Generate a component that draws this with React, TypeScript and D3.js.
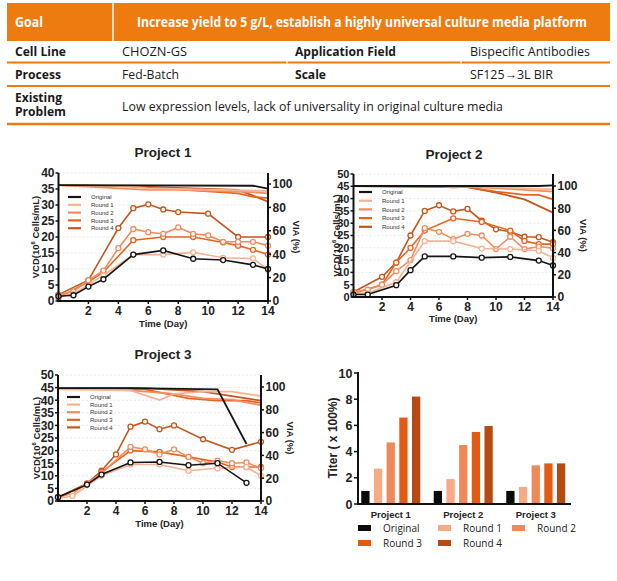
import React from 'react';
import * as d3 from 'd3';

const n = null;
type V = (number | null)[];

const SERIES = ['Original', 'Round 1', 'Round 2', 'Round 3', 'Round 4'];
const LINE_COLORS = ['#151515', '#F7B291', '#F28C5E', '#E8641E', '#C4561E'];
const BAR_COLORS = ['#0b0b0b', '#F5AA88', '#EF8A58', '#E35B12', '#B64A12'];
const DAYS = [0, 1, 2, 3, 4, 5, 6, 7, 8, 9, 10, 11, 12, 13, 14];
const X_TICKS = [2, 4, 6, 8, 10, 12, 14];
const VIA_TICKS = [0, 20, 40, 60, 80, 100];
const VCD_TICKS_40 = [0, 5, 10, 15, 20, 25, 30, 35, 40];
const VCD_TICKS_50 = [0, 5, 10, 15, 20, 25, 30, 35, 40, 45, 50];

const P1_VCD: V[] = [
  [1.5, 1.8, 4.5, 6.8, n, 14.5, n, 15.8, n, 13.2, n, 12.8, n, 11.3, 10],
  [1.5, 2.2, n, 8, n, 14.5, n, 14.5, n, 15.2, n, 13.5, n, 13.3, 9.8],
  [2, 3, 6.5, 9.5, 16.5, 22.5, 21.5, 21, 23, 21, 20.5, 18.5, 18.5, 18.5, 17.3],
  [1, n, 6, 9, n, 19, n, 20, n, 20, n, 18.3, 17.3, 16, 14.5],
  [2, n, 6.5, n, 22.8, 29, 30.2, 28.6, 27.8, n, 27.3, n, 20, n, 20],
];
const P1_VIA: V[] = [
  [99, n, n, n, n, n, n, n, n, n, n, n, n, 98.5, 96],
  [99, n, n, n, n, 98, 96, 96, n, n, n, n, n, n, 94],
  [99, n, n, n, n, n, 95, n, 95, n, n, n, n, 93, 92],
  [99, n, n, n, n, 98, n, n, n, n, n, n, 92, 89, 88],
  [99, n, n, n, n, 98, n, n, n, n, n, n, 95, 90, 85],
];

const P2_VCD: V[] = [
  [1, 1, n, 4.8, 10.9, 16.5, n, 16.5, n, 16, n, 16.3, n, 14.8, 12.8],
  [1.5, 1.5, n, 6, n, 22.7, n, 22.7, n, 19.7, n, 19.5, n, 18.8, 15.9],
  [2, 3, 5, 10.5, 15, 28, 26.5, 23.5, 25.7, 25, 19.5, 24.5, 19.5, 20.5, 19.8],
  [1.5, n, 5, 14, 20, 27, n, 32, n, 30.5, n, 27, 22.8, 21.5, 21.5],
  [2, n, 8.2, 14, 25, 35, 37.3, 34.8, 35.8, 31, 27.5, 26.5, 24.5, 24.3, 22.3],
];
const P2_VIA: V[] = [
  [100, n, n, n, n, n, n, n, n, n, n, n, n, 100, 100.5],
  [100, n, n, n, n, n, n, n, 100, n, n, n, n, n, 97],
  [100, n, n, n, n, n, 100, 98.5, 99.5, n, n, n, n, n, 95],
  [100, n, n, n, n, n, n, n, 99, n, 95, n, 92, 92, 88],
  [100, n, n, n, n, n, n, n, 99, n, 94, n, 88, n, 76],
];

const P3_VCD: V[] = [
  [1.5, n, 6.5, 10.5, n, 15.3, n, 15.5, n, 14.2, n, 15, n, 7.2, n],
  [1, 2, n, 10, n, 14.5, n, 14.5, n, 12, n, 13, n, 13.5, 10],
  [1.5, 3, n, 11, n, 21.5, 20.5, 18.5, 20.5, 17.5, 15, 16, 15, 15.3, 13],
  [1.5, n, 6.5, 11.5, n, 20, n, 19.5, n, 17.5, n, 15.5, 13.5, 13.5, 13.5],
  [1.5, n, 7, 12, 18.5, 29.5, 31.5, 28.5, 30, n, 24.5, n, 20.3, n, 23.5],
];
const P3_VIA: V[] = [
  [99, n, n, n, n, 99, n, n, n, n, n, 98, n, 50, n],
  [98, n, n, n, n, 97, n, 88.5, 94, n, 96, n, 96, n, 92],
  [99, n, n, n, n, 97, n, n, 94, n, 90, n, 89, n, 84],
  [99, n, n, n, n, n, 98, n, n, 90, n, 88, n, 88, 86],
  [99, n, n, n, n, n, 99, n, n, n, 96, n, 92, n, 88],
];

const PROJECTS = ['Project 1', 'Project 2', 'Project 3'];
const TITER: number[][] = [
  [1, 2.7, 4.7, 6.6, 8.2],
  [1, 1.9, 4.5, 5.5, 5.95],
  [1, 1.3, 2.95, 3.1, 3.1],
];
const TITER_TICKS = [0, 2, 4, 6, 8, 10];

const GOAL_TEXT = 'Increase yield to 5 g/L, establish a highly universal culture media platform';
const TABLE_ROWS = [
  ['Cell Line', 'CHOZN-GS', 'Application Field', 'Bispecific Antibodies'],
  ['Process', 'Fed-Batch', 'Scale', 'SF125\u21923L BIR'],
];
const PROBLEM_TEXT = 'Low expression levels, lack of universality in original culture media';

const ORANGE = '#EE7B10';
const TFONT = '"Open Sans", "Noto Sans", sans-serif';
const CFONT = '"Liberation Sans", Arial, sans-serif';

function Table() {
  const colX = [15, 122, 295, 470];
  const lens = [
    [51, 65, 101, 120],
    [46, 57, 31, 83],
  ];
  const baselines = [56.3, 78.5];
  const s = 0.76;
  return (
    <g>
      <rect x={7} y={3} width={603} height={38} fill={ORANGE} />
      <line x1={113} x2={113} y1={3} y2={41} stroke="#fff" strokeWidth={1.5} />
      <text x={15} y={26.5} fill="#fff" fontFamily={TFONT} fontWeight={700} fontSize={14} textLength={28} lengthAdjust="spacingAndGlyphs">Goal</text>
      <g transform={`translate(137,26.5) scale(${s},1)`}>
        <text x={0} y={0} fill="#fff" fontFamily={TFONT} fontWeight={700} fontSize={14} textLength={450 / s} lengthAdjust="spacingAndGlyphs">{GOAL_TEXT}</text>
      </g>
      {TABLE_ROWS.map((row, ri) =>
        row.map((cell, ci) => (
          <text key={`${ri}-${ci}`} x={colX[ci]} y={baselines[ri]} fill="#1a1a1a" fontFamily={TFONT}
            fontWeight={ci % 2 === 0 ? 700 : 400} fontSize={13} textLength={lens[ri][ci]} lengthAdjust="spacingAndGlyphs">{cell}</text>
        ))
      )}
      <text x={15} y={102.3} fill="#1a1a1a" fontFamily={TFONT} fontWeight={700} fontSize={12.5} textLength={47} lengthAdjust="spacingAndGlyphs">Existing</text>
      <text x={15} y={115.7} fill="#1a1a1a" fontFamily={TFONT} fontWeight={700} fontSize={12.5} textLength={51} lengthAdjust="spacingAndGlyphs">Problem</text>
      <text x={122} y={110.5} fill="#1a1a1a" fontFamily={TFONT} fontWeight={400} fontSize={13} textLength={381} lengthAdjust="spacingAndGlyphs">{PROBLEM_TEXT}</text>
      <line x1={7} x2={610} y1={62.5} y2={62.5} stroke={ORANGE} strokeWidth={2} />
      <line x1={7} x2={610} y1={86} y2={86} stroke={ORANGE} strokeWidth={2} />
      <line x1={7} x2={610} y1={124} y2={124} stroke={ORANGE} strokeWidth={2.5} />
      <line x1={287} x2={287} y1={60} y2={65} stroke="#fff" strokeWidth={1.2} />
      <line x1={461} x2={461} y1={60} y2={65} stroke="#fff" strokeWidth={1.2} />
    </g>
  );
}

type LCProps = {
  title: string;
  vcd: V[];
  via: V[];
  x0: number; x14: number; y0: number; yTop: number; vcdMax: number; via100: number;
  vcdTicks: number[];
  titleX: number; titleY: number;
  legX: number; legY: number; legStep: number;
  yLabX: number; rLabX: number; xLabY: number;
  tickSize: number;
};

function LineChart(p: LCProps) {
  const x = d3.scaleLinear().domain([0, 14]).range([p.x0, p.x14]);
  const y = d3.scaleLinear().domain([0, p.vcdMax]).range([p.y0, p.yTop]);
  const yr = d3.scaleLinear().domain([0, 100]).range([p.y0, p.via100]);
  const pts = (vals: V) => DAYS.map((d, i) => [d, vals[i]] as [number, number | null]).filter((q) => q[1] != null) as [number, number][];
  const lineL = d3.line<[number, number]>().x((d) => x(d[0])).y((d) => y(d[1]));
  const lineR = d3.line<[number, number]>().x((d) => x(d[0])).y((d) => yr(d[1]));
  const midY = (p.y0 + p.yTop) / 2;
  const order = [4, 3, 2, 1, 0];
  return (
    <g>
      <text x={p.titleX} y={p.titleY} textAnchor="middle" fontFamily={CFONT} fontWeight={700} fontSize={13.5} fill="#222">{p.title}</text>
      {p.vcdTicks.slice(1).map((t) => (
        <line key={t} x1={p.x0} x2={p.x14} y1={y(t)} y2={y(t)} stroke="#e2e2e2" strokeWidth={0.8} strokeDasharray="2,2" />
      ))}
      {order.map((si) => (
        <path key={'v' + si} d={lineR(pts(p.via[si])) || ''} fill="none" stroke={LINE_COLORS[si]} strokeWidth={1.8} />
      ))}
      {order.map((si) => (
        <g key={'c' + si}>
          <path d={lineL(pts(p.vcd[si])) || ''} fill="none" stroke={LINE_COLORS[si]} strokeWidth={1.6} />
          {pts(p.vcd[si]).map((q, k) => (
            <circle key={k} cx={x(q[0])} cy={y(q[1])} r={2.5} fill="#fff" stroke={LINE_COLORS[si]} strokeWidth={1.3} />
          ))}
        </g>
      ))}
      <line x1={p.x0} x2={p.x0} y1={p.y0 + 1} y2={p.yTop} stroke="#111" strokeWidth={2} />
      <line x1={p.x14} x2={p.x14} y1={p.y0 + 1} y2={p.yTop} stroke="#111" strokeWidth={2} />
      <line x1={p.x0 - 1} x2={p.x14 + 1} y1={p.y0} y2={p.y0} stroke="#111" strokeWidth={2} />
      {p.vcdTicks.map((t) => (
        <g key={'lt' + t}>
          <line x1={p.x0 - 3} x2={p.x0} y1={y(t)} y2={y(t)} stroke="#111" strokeWidth={1.5} />
          <text x={p.x0 - 4} y={y(t)} dy="0.36em" textAnchor="end" fontFamily={CFONT} fontWeight={700} fontSize={p.tickSize} fill="#222">{t}</text>
        </g>
      ))}
      {VIA_TICKS.map((t) => (
        <g key={'rt' + t}>
          <line x1={p.x14} x2={p.x14 + 3} y1={yr(t)} y2={yr(t)} stroke="#111" strokeWidth={1.5} />
          <text x={p.x14 + 4.5} y={yr(t)} dy="0.36em" textAnchor="start" fontFamily={CFONT} fontWeight={700} fontSize={12} fill="#222">{t}</text>
        </g>
      ))}
      {X_TICKS.map((t) => (
        <g key={'xt' + t}>
          <line x1={x(t)} x2={x(t)} y1={p.y0} y2={p.y0 + 3} stroke="#111" strokeWidth={1.5} />
          <text x={x(t)} y={p.y0 + 13.5} textAnchor="middle" fontFamily={CFONT} fontWeight={700} fontSize={12} fill="#222">{t}</text>
        </g>
      ))}
      <text x={(p.x0 + p.x14) / 2} y={p.xLabY} textAnchor="middle" fontFamily={CFONT} fontWeight={700} fontSize={9.5} fill="#222">Time (Day)</text>
      <text transform={`translate(${p.yLabX},${midY}) rotate(-90)`} textAnchor="middle" dy="0.35em" fontFamily={CFONT} fontWeight={700} fontSize={9.5} fill="#222">
        VCD(10<tspan fontSize={6} dy="-4">6</tspan><tspan dy="4"> Cells/mL)</tspan>
      </text>
      <text transform={`translate(${p.rLabX},${midY}) rotate(90)`} textAnchor="middle" dy="0.35em" fontFamily={CFONT} fontWeight={700} fontSize={9.5} fill="#222">VIA (%)</text>
      {SERIES.map((s, i) => (
        <g key={'lg' + s}>
          <line x1={p.legX} x2={p.legX + 13} y1={p.legY + i * p.legStep} y2={p.legY + i * p.legStep} stroke={LINE_COLORS[i]} strokeWidth={2.2} />
          <text x={p.legX + 23} y={p.legY + i * p.legStep} dy="0.35em" fontFamily={CFONT} fontSize={6} fill="#333">{s}</text>
        </g>
      ))}
    </g>
  );
}

function BarChart() {
  const y = d3.scaleLinear().domain([0, 10]).range([504, 373]);
  const gx = d3.scaleBand<string>().domain(PROJECTS).range([354.5, 572]).paddingInner(0.186).paddingOuter(0.093);
  const bx = d3.scaleBand<string>().domain(SERIES).range([0, gx.bandwidth()]).paddingInner(0.346).paddingOuter(0);
  const legendPos = [
    [358, 528], [438, 528], [512, 528], [358, 543], [438, 543],
  ];
  return (
    <g>
      {PROJECTS.map((pr, pi) => (
        <g key={pr}>
          {TITER[pi].map((v, si) => (
            <rect key={si} x={(gx(pr) || 0) + (bx(SERIES[si]) || 0)} y={y(v)} width={bx.bandwidth()} height={y(0) - y(v)} fill={BAR_COLORS[si]} />
          ))}
          <text x={(gx(pr) || 0) + gx.bandwidth() / 2} y={517.5} textAnchor="middle" fontFamily={CFONT} fontWeight={700} fontSize={9.5} fill="#222">{pr}</text>
        </g>
      ))}
      <line x1={358} x2={358} y1={505} y2={372} stroke="#111" strokeWidth={2} />
      <line x1={357} x2={571} y1={504} y2={504} stroke="#111" strokeWidth={2} />
      {TITER_TICKS.map((t) => (
        <g key={t}>
          <line x1={354} x2={358} y1={y(t)} y2={y(t)} stroke="#111" strokeWidth={1.5} />
          <text x={352.5} y={y(t)} dy="0.36em" textAnchor="end" fontFamily={CFONT} fontWeight={700} fontSize={12.5} fill="#222">{t}</text>
        </g>
      ))}
      <text transform={`translate(333,438) rotate(-90)`} textAnchor="middle" dy="0.35em" fontFamily={CFONT} fontWeight={700} fontSize={12} fill="#222">Titer ( x 100%)</text>
      {SERIES.map((s, i) => (
        <g key={'bl' + s}>
          <rect x={legendPos[i][0]} y={legendPos[i][1] - 3} width={13} height={6} fill={BAR_COLORS[i]} />
          <text x={legendPos[i][0] + 25} y={legendPos[i][1]} dy="0.35em" fontFamily={TFONT} fontSize={10} fill="#222">{s}</text>
        </g>
      ))}
    </g>
  );
}

export default function App() {
  return (
    <svg width={617} height={581} style={{ position: 'absolute', left: 0, top: 0, background: '#fff' }}>
      <rect x={0} y={0} width={617} height={581} fill="#fff" />
      <Table />
      <LineChart title="Project 1" vcd={P1_VCD} via={P1_VIA} x0={58.5} x14={268} y0={301} yTop={173} vcdMax={40} via100={184}
        vcdTicks={VCD_TICKS_40} titleX={163} titleY={157} legX={68} legY={197} legStep={7.8} yLabX={36} rLabX={296} xLabY={326.5} tickSize={12} />
      <LineChart title="Project 2" vcd={P2_VCD} via={P2_VIA} x0={353.5} x14={553} y0={297} yTop={174} vcdMax={50} via100={186}
        vcdTicks={VCD_TICKS_50} titleX={454} titleY={159} legX={359} legY={192} legStep={8.7} yLabX={337} rLabX={583} xLabY={322} tickSize={11} />
      <LineChart title="Project 3" vcd={P3_VCD} via={P3_VIA} x0={58} x14={261} y0={501} yTop={375} vcdMax={50} via100={387}
        vcdTicks={VCD_TICKS_50} titleX={163} titleY={359} legX={67} legY={397} legStep={7.6} yLabX={37} rLabX={290} xLabY={526.5} tickSize={12} />
      <BarChart />
    </svg>
  );
}
